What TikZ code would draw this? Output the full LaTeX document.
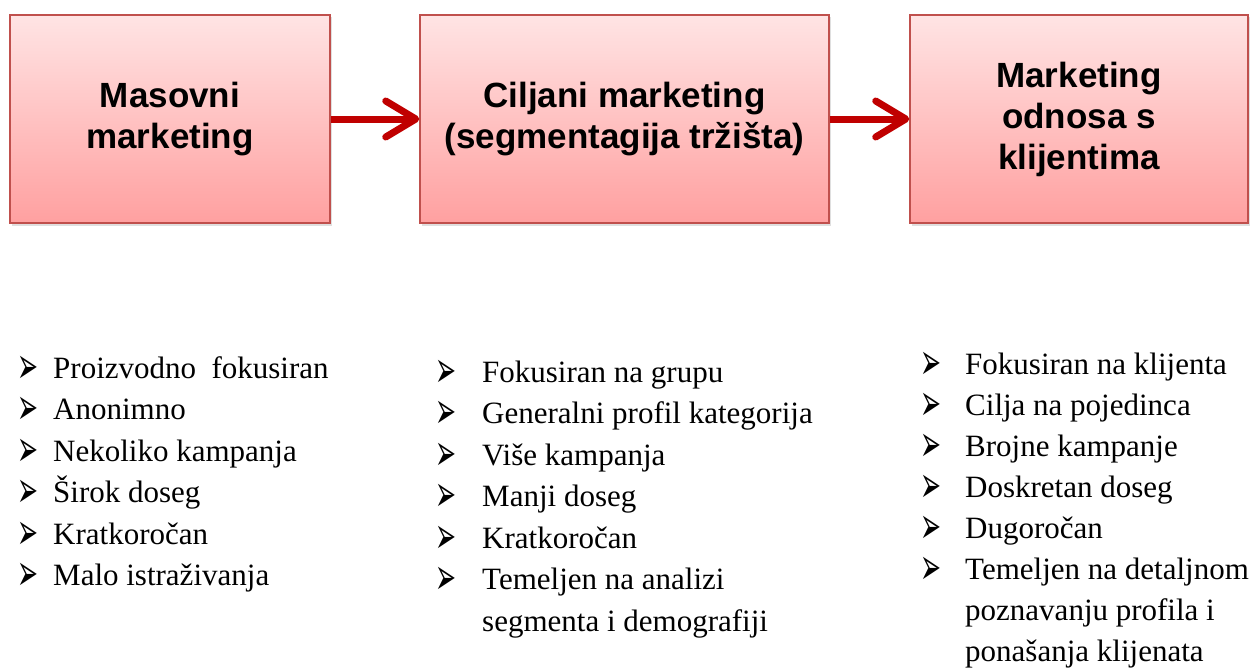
\documentclass[tikz,border=0pt]{standalone}
\usepackage{fontspec}
\setmainfont{Liberation Serif}
\newfontfamily\boxfont{Liberation Sans}
\newfontfamily\symfont{DejaVu Sans}
\usepackage{xcolor}
\usepackage{array}
\usepackage{graphicx}
\usetikzlibrary{arrows.meta}
\usetikzlibrary{shadows}
\definecolor{boxred}{RGB}{192,80,77}
\definecolor{arrowred}{RGB}{192,0,0}
\definecolor{pinktop}{RGB}{255,228,228}
\definecolor{pinkbot}{RGB}{255,160,160}
\tikzstyle{stagebox} = [draw=boxred, line width=1.5pt, top color=pinktop,
bottom color=pinkbot, minimum height=208pt, inner sep=0pt, align=center,
font=\boxfont\bfseries\fontsize{35}{41}\selectfont,
drop shadow={shadow xshift=1.5pt, shadow yshift=-2.5pt, opacity=0.25}]
\tikzstyle{flow} = [arrowred, line width=7pt,
-{Straight Barb[length=30pt, width=36pt, round]}]
\tikzstyle{itemlist} = [anchor=base west, inner sep=0pt,
font=\fontsize{31}{41.5}\selectfont]
\newcommand{\bul}{\smash{\raisebox{-5pt}{\scalebox{0.66}[1.35]{\symfont\fontsize{38}{35}\selectfont ➢}}}}

\begin{document}
\begin{tikzpicture}[x=1pt, y=-1pt]
        \useasboundingbox (0,0) rectangle (1259,669);
        % stages
        \node [stagebox, minimum width=320pt] (mass) at (170,119) {Masovni\\marketing};
        \node [stagebox, minimum width=409pt] (target) at (624.5,119) {Ciljani marketing\\(segmentagija tržišta)};
        \node [stagebox, minimum width=338pt] (relation) at (1079,119) {Marketing\\odnosa s\\klijentima};
        \draw [flow] (mass) -- (target);
        \draw [flow] (target) -- (relation);
        % lists
        \node [itemlist] (mass list) at (17,378) {%
            \begin{tabular}[t]{@{}p{36pt}@{}l@{}}
                \bul & Proizvodno \ fokusiran\\
                \bul & Anonimno\\
                \bul & Nekoliko kampanja\\
                \bul & Širok doseg\\
                \bul & Kratkoročan\\
                \bul & Malo istraživanja
            \end{tabular}
        };
        \node [itemlist] (target list) at (435,382) {%
            \begin{tabular}[t]{@{}p{47pt}@{}l@{}}
                \bul & Fokusiran na grupu\\
                \bul & Generalni profil kategorija\\
                \bul & Više kampanja\\
                \bul & Manji doseg\\
                \bul & Kratkoročan\\
                \bul & Temeljen na analizi\\
                     & segmenta i demografiji
            \end{tabular}
        };
        \node [itemlist, font=\fontsize{31}{41}\selectfont] (relation list) at (920,374) {%
            \begin{tabular}[t]{@{}p{45pt}@{}l@{}}
                \bul & Fokusiran na klijenta\\
                \bul & Cilja na pojedinca\\
                \bul & Brojne kampanje\\
                \bul & Doskretan doseg\\
                \bul & Dugoročan\\
                \bul & Temeljen na detaljnom\\
                     & poznavanju profila i\\
                     & ponašanja klijenata
            \end{tabular}
        };
\end{tikzpicture}
\end{document}
